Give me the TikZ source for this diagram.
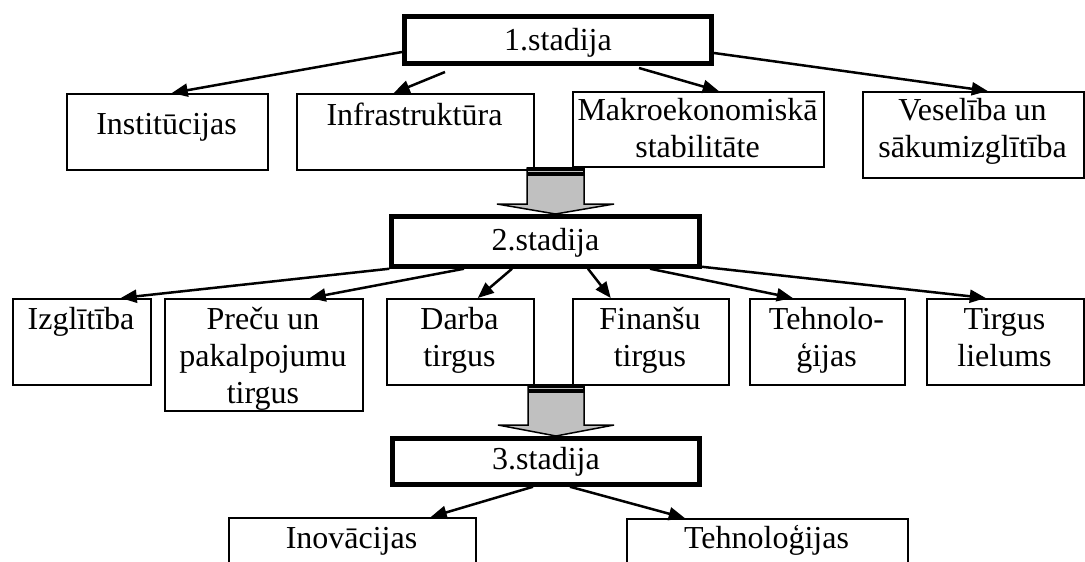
\documentclass[tikz,border=0pt]{standalone}
\usepackage{fontspec}
\setmainfont{Liberation Serif}
\usetikzlibrary{arrows.meta,calc}
\definecolor{arrowgray}{RGB}{192,192,192}
\newcommand{\mlines}[1]{\begin{tabular}[t]{@{}c@{}}#1\end{tabular}}
\begin{document}
\begin{tikzpicture}[x=1pt,y=-1pt,
  box/.style={draw=black,line width=1.5pt,inner sep=0pt,anchor=north west},
  stage/.style={draw=black,line width=5pt,inner sep=0pt},
  lbl/.style={anchor=base,inner sep=0pt,font=\fontsize{32}{37}\selectfont},
  conn/.style={line width=2.5pt,-{Triangle[length=16pt,width=13pt]}},
  blockarrow/.style={fill=arrowgray,draw=black,line width=1.5pt,line join=miter},
]
\useasboundingbox (0,0) rectangle (1085,562);
\clip (0,0) rectangle (1085,562);

% row 1 boxes
\node[box,minimum width=201pt,minimum height=76pt] (inst)  at (66,93) {};
\node[box,minimum width=237pt,minimum height=76pt] (infra) at (296,93) {};
\node[box,minimum width=251pt,minimum height=75pt] (makro) at (572,91) {};
\node[box,minimum width=221pt,minimum height=86pt] (vesel) at (862,91) {};
% row 2 boxes
\node[box,minimum width=138pt,minimum height=86pt]  (izgl)    at (12,298) {};
\node[box,minimum width=198pt,minimum height=112pt] (precu)   at (164,298) {};
\node[box,minimum width=147pt,minimum height=86pt]  (darba)   at (386,298) {};
\node[box,minimum width=156pt,minimum height=86pt]  (finansu) at (572,298) {};
\node[box,minimum width=155pt,minimum height=86pt]  (tehno)   at (749,298) {};
\node[box,minimum width=157pt,minimum height=86pt]  (tirgus)  at (926,298) {};
% row 3 boxes
\node[box,minimum width=247pt,minimum height=80pt] (inov)     at (228,517) {};
\node[box,minimum width=281pt,minimum height=80pt] (tehnoIII) at (626,518) {};

% block arrows
\draw[blockarrow] (527,168) -- (584,168) -- (584,204) -- (614,204) -- (555.5,214) -- (497,204) -- (527,204) -- cycle;
\fill[black] (527,167) rectangle (584,176);
\draw[arrowgray,line width=1pt] (528,171.5) -- (583,171.5);
\draw[blockarrow] (528,385) -- (584,385) -- (584,425) -- (614,425) -- (556,436) -- (498,425) -- (528,425) -- cycle;
\fill[black] (528,384) rectangle (584,393);
\draw[arrowgray,line width=1pt] (529,388.5) -- (583,388.5);

% stage boxes
\node[stage,minimum width=307pt,minimum height=47pt]     (s1) at (558,40) {};
\node[stage,minimum width=307.5pt,minimum height=49.5pt] (s2) at (545.5,241.5) {};
\node[stage,minimum width=306.5pt,minimum height=45.5pt] (s3) at (546,461.5) {};

% texts
\node[lbl] (s1T) at (558,50) {1.stadija};
\node[lbl] (s2T) at (545.5,250) {2.stadija};
\node[lbl] (s3T) at (546,469) {3.stadija};

\node[lbl] (instT)  at (166.5,134) {Institūcijas};
\node[lbl] (infraT) at (414.5,125) {Infrastruktūra};
\node[lbl] (makroT) at (697.5,120) {\mlines{Makroekonomiskā\\stabilitāte}};
\node[lbl] (veselT) at (972.5,120) {\mlines{Veselība un\\sākumizglītība}};

\node[lbl] (izglT)    at (81,329)    {Izglītība};
\node[lbl] (precuT)   at (263,329)   {\mlines{Preču un\\pakalpojumu\\tirgus}};
\node[lbl] (darbaT)   at (459.5,329) {\mlines{Darba\\tirgus}};
\node[lbl] (finansuT) at (650,329)   {\mlines{Finanšu\\tirgus}};
\node[lbl] (tehnoT)   at (826.5,329) {\mlines{Tehnolo-\\ģijas}};
\node[lbl] (tirgusT)  at (1004.5,329) {\mlines{Tirgus\\lielums}};

\node[lbl] (inovT)     at (351.5,548) {Inovācijas};
\node[lbl] (tehnoIIIT) at (766.5,548) {Tehnoloģijas};

% connectors
\draw[conn] ([yshift=-12pt]s1.west) -- ([xshift=4.5pt]inst.north);
\draw[conn] ([xshift=-113pt,yshift=-6pt]s1.south) -- ([xshift=-21.5pt]infra.north);
\draw[conn] ([xshift=81pt,yshift=-2pt]s1.south) -- ([xshift=20.5pt]makro.north);
\draw[conn] ([yshift=-13pt]s1.east) -- ([xshift=14.5pt]vesel.north);

\draw[conn] (s2.south west) -- ([xshift=39pt]izgl.north);
\draw[conn] ([xshift=-81.5pt]s2.south) -- ([xshift=46pt]precu.north);
\draw[conn] ([xshift=-33.5pt]s2.south) -- ([xshift=17.5pt]darba.north);
\draw[conn] ([xshift=42.5pt]s2.south) -- ([xshift=-40pt]finansu.north);
\draw[conn] ([xshift=104.5pt]s2.south) -- ([xshift=-34.5pt]tehno.north);
\draw[conn] ([yshift=2pt]s2.south east) -- ([xshift=-19.5pt]tirgus.north);

\draw[conn] ([xshift=-13pt]s3.south) -- ([xshift=78.5pt]inov.north);
\draw[conn] ([xshift=24pt]s3.south) -- ([xshift=-82.5pt]tehnoIII.north);
\end{tikzpicture}
\end{document}
